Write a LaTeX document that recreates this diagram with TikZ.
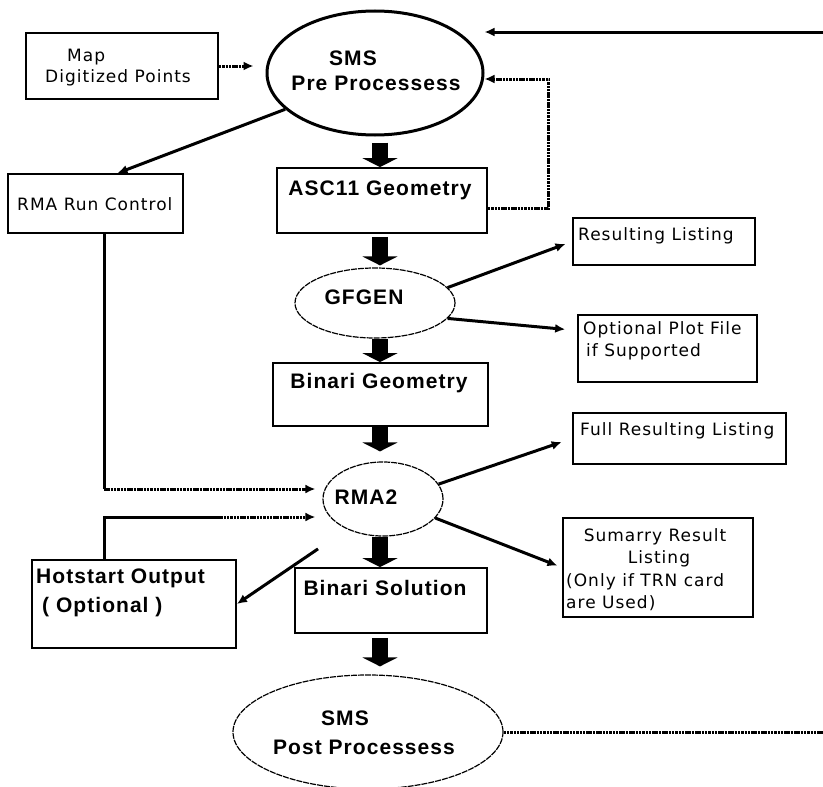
\documentclass[tikz,border=0pt]{standalone}
\usepackage{fontspec}
\usetikzlibrary{arrows.meta}
\usetikzlibrary{calc}
\usetikzlibrary{positioning}
\usetikzlibrary{shapes.geometric}
\newfontfamily\boldsans[LetterSpace=5]{Liberation Sans}
\newfontfamily\plainsans[LetterSpace=6]{DejaVu Sans}

\begin{document}
\begin{tikzpicture}[x=1pt, y=-1pt,
	bigtext/.style={font=\boldsans\bfseries\fontsize{21}{24}\selectfont, inner sep=0pt},
	smalltext/.style={font=\plainsans\fontsize{17}{21}\selectfont, inner sep=0pt, anchor=west},
	box/.style={draw, line width=1.8pt, inner sep=0pt},
	oval/.style={draw, ellipse, inner sep=0pt, line width=1.2pt, dash pattern=on 6pt off 1pt},
	solidline/.style={line width=3pt},
	dotline/.style={solidline, dash pattern=on 2.5pt off 0.8pt},
	link/.style={solidline, -{Latex[length=10pt, width=9pt]}},
	dotlink/.style={link, dash pattern=on 2.5pt off 0.8pt},
	blockarrow/.style={line width=16pt, -{Triangle[length=9pt, width=35pt]}}]
	
	\useasboundingbox (0,0) rectangle (823,787);
	
	% boxes and ovals
	\node[box, minimum width=192, minimum height=66] (map) at (122, 66) {};
	\node[draw, ellipse, inner sep=0pt, line width=3pt, minimum width=216, minimum height=124] (pre) at (375, 73) {};
	\node[box, minimum width=175, minimum height=59] (rmarun) at (95.5, 203.5) {};
	\node[box, minimum width=210, minimum height=65] (asc) at (382, 200.5) {};
	\node[oval, minimum width=160, minimum height=70] (gfgen) at (375, 303) {};
	\node[box, minimum width=182, minimum height=47] (res) at (664, 241.5) {};
	\node[box, minimum width=179, minimum height=67] (opt) at (667.5, 348.5) {};
	\node[box, minimum width=215, minimum height=63] (bgeo) at (380.5, 394.5) {};
	\node[box, minimum width=213, minimum height=51] (full) at (679.5, 438.5) {};
	\node[oval, minimum width=120, minimum height=74] (rma2) at (383, 499) {};
	\node[box, minimum width=190, minimum height=99] (sum) at (658, 567.5) {};
	\node[box, minimum width=204, minimum height=88] (hot) at (134, 604) {};
	\node[box, minimum width=192, minimum height=65] (bsol) at (391, 600.5) {};
	\node[oval, minimum width=270, minimum height=114] (post) at (368, 732) {};
	
	% texts
	\node[smalltext] (map-a) at (67, 57) {Map};
	\node[smalltext] (map-b) at (45, 78) {Digitized Points};
	\node[bigtext] (pre-a) at (353, 58) {SMS};
	\node[bigtext] (pre-b) at (376, 83) {Pre Processess};
	\node[smalltext] (rmarun-t) at (17, 204) {RMA Run Control};
	\node[bigtext] (asc-t) at (380, 190) {ASC11 Geometry};
	\node[bigtext] (gfgen-t) at (364, 297) {GFGEN};
	\node[smalltext] (res-t) at (578, 236) {Resulting Listing};
	\node[smalltext] (opt-a) at (583, 330) {Optional Plot File};
	\node[smalltext] (opt-b) at (586, 352) {if Supported};
	\node[bigtext] (bgeo-t) at (379, 383) {Binari Geometry};
	\node[smalltext] (full-t) at (580, 431) {Full Resulting Listing};
	\node[bigtext] (rma2-t) at (366, 497) {RMA2};
	\node[smalltext, anchor=center] (sum-a) at (655, 537) {Sumarry Result};
	\node[smalltext, anchor=center] (sum-b) at (659, 559) {Listing};
	\node[smalltext] (sum-c) at (566, 582) {(Only if TRN card};
	\node[smalltext] (sum-d) at (566, 603) {are Used)};
	\node[bigtext, anchor=west] (hot-a) at (36, 578) {Hotstart Output};
	\node[bigtext, anchor=west] (hot-b) at (42, 607) {( Optional )};
	\node[bigtext] (bsol-t) at (385, 588) {Binari Solution};
	\node[bigtext] (post-a) at (345, 718) {SMS};
	\node[bigtext] (post-b) at (364, 747) {Post Processess};
	
	% free ends and corners
	\coordinate (axis) at (380, 0);
	\coordinate (topin) at (823, 32);
	\coordinate (postout) at (823, 732);
	\coordinate (runcorner) at (104, 489);
	\coordinate (hotcorner) at (104, 517);
	\coordinate (hotmid) at (217, 517);
	
	% main flow
	\draw[blockarrow, shorten <=6pt] (pre.south -| axis) -- (asc.north -| axis);
	\draw[blockarrow, shorten <=3pt, shorten >=2pt] (asc.south -| axis) -- (gfgen.north -| axis);
	\draw[blockarrow] (gfgen.south -| axis) -- (bgeo.north -| axis);
	\draw[blockarrow, shorten >=10pt] (bgeo.south -| axis) -- (rma2.north -| axis);
	\draw[blockarrow] (rma2.south -| axis) -- (bsol.north -| axis);
	\draw[blockarrow, shorten <=4pt, shorten >=8pt] (bsol.south -| axis) -- (post.north -| axis);
	
	% side connectors
	\draw[dotlink, shorten >=12pt] (map.east) -- (map.east -| pre.west);
	\draw[link] (topin) -- (topin -| pre.east);
	\draw[dotlink] ([yshift=-8pt]asc.east) -- ++(61, 0) |- ([yshift=-6pt]pre.east);
	\draw[link] (pre.202) -- ([xshift=22pt]rmarun.north);
	\draw[link, shorten >=7pt] (gfgen.12) -- (res.west);
	\draw[link, shorten >=12pt] (gfgen.-12) -- ([yshift=18pt]opt.west);
	\draw[link, shorten >=11pt] (rma2.15) -- (full.west);
	\draw[link, shorten >=5pt] (rma2.-20) -- (sum.west);
	\draw[link, shorten <=35pt] (rma2.220) -- (hot.east);
	\draw[solidline] (rmarun.south -| runcorner) -- (runcorner);
	\draw[dotlink, shorten >=7pt] (runcorner) -- (runcorner -| rma2.west);
	\draw[solidline] (hot.north -| hotcorner) -- (hotcorner) -- (hotmid);
	\draw[dotlink, shorten >=7pt] (hotmid) -- (hotmid -| rma2.west);
	\draw[dotline] (post.east) -- (postout);
\end{tikzpicture}
\end{document}
